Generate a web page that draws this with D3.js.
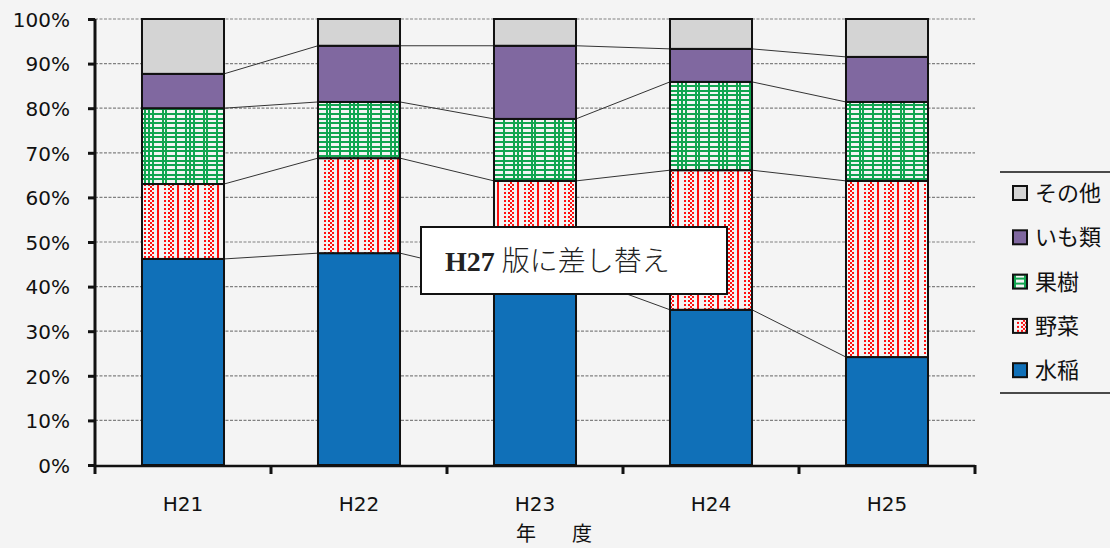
<!DOCTYPE html>
<html><head><meta charset="utf-8">
<script src="https://cdn.jsdelivr.net/npm/d3@7"></script>
<style>body{margin:0;background:#f4f4f4;}svg{display:block;}</style>
</head><body>
<svg id="c" width="1110" height="548"></svg>
<script>
const categories = ["H21","H22","H23","H24","H25"];
const seriesNames = ["水稲","野菜","果樹","いも類","その他"];
const suito   = [46.2, 47.5, 42.5, 34.8, 24.2];
const yasai   = [16.8, 21.3, 21.2, 31.3, 39.5];
const kaju    = [17.0, 12.6, 13.9, 19.8, 17.7];
const imo     = [7.7, 12.6, 16.4, 7.4, 10.1];
const sonota  = [12.3, 6.0, 6.0, 6.7, 8.5];
const yTicks = [0,10,20,30,40,50,60,70,80,90,100];
const noteText = "版に差し替え";

(function(){
const svg = d3.select("#c");
svg.append("rect").attr("width",1110).attr("height",548).attr("fill","#f4f4f4");
const defs = svg.append("defs");
const pg = defs.append("pattern").attr("id","pGreen").attr("patternUnits","userSpaceOnUse")
  .attr("width",41).attr("height",14).attr("x",142).attr("y",0);
pg.append("rect").attr("width",41).attr("height",14).attr("fill","#f4f4f4");
[2,6,10,20,23,33].forEach(v=>pg.append("rect").attr("x",v).attr("y",0).attr("width",2).attr("height",14).attr("fill","#11a550"));
[1,6,10].forEach(v=>pg.append("rect").attr("x",0).attr("y",v).attr("width",41).attr("height",2).attr("fill","#11a550"));
const pr = defs.append("pattern").attr("id","pRed").attr("patternUnits","userSpaceOnUse")
  .attr("width",20).attr("height",4).attr("x",142).attr("y",0);
pr.append("rect").attr("width",20).attr("height",4).attr("fill","#f4f4f4");
[[2,0],[6,0],[8,2],[10,0],[15,2],[15,0]].forEach(([a,b])=>pr.append("rect").attr("x",a).attr("y",b).attr("width",2).attr("height",2).attr("fill","#ff1010"));

const fills = ["#1070b8","url(#pRed)","url(#pGreen)","#8068a0","#d4d4d4"];

const pL=95, pR=975, pT=19, pB=465;
const x = d3.scaleBand().domain(categories).range([pL,pR]).paddingInner(0.534).paddingOuter(0.267);
const y = d3.scaleLinear().domain([0,100]).range([pB,pT]);

const rows = categories.map((c,i)=>({cat:c, "水稲":suito[i], "野菜":yasai[i], "果樹":kaju[i], "いも類":imo[i], "その他":sonota[i]}));
const stacked = d3.stack().keys(seriesNames)(rows);

svg.append("g").selectAll("line").data(yTicks.filter(t=>t>0)).join("line")
  .attr("x1",pL).attr("x2",pR).attr("y1",d=>y(d)).attr("y2",d=>y(d))
  .attr("stroke","#808080").attr("stroke-width",1.2).attr("stroke-dasharray","3,1.5");

stacked.slice(0,4).forEach(s=>{
  for(let i=0;i<s.length-1;i++){
    svg.append("line")
      .attr("x1",x(categories[i])+x.bandwidth()).attr("y1",y(s[i][1]))
      .attr("x2",x(categories[i+1])).attr("y2",y(s[i+1][1]))
      .attr("stroke","#333").attr("stroke-width",1);
  }
});

stacked.forEach((s,k)=>{
  svg.append("g").selectAll("rect").data(s).join("rect")
    .attr("x",(d,i)=>x(categories[i])).attr("width",x.bandwidth())
    .attr("y",d=>y(d[1])).attr("height",d=>y(d[0])-y(d[1]))
    .attr("fill",fills[k]).attr("stroke","#111").attr("stroke-width",2);
});

const yAxis = d3.axisLeft(y).tickValues(yTicks).tickFormat(d=>d+"%").tickSize(7);
const gy = svg.append("g").attr("transform",`translate(${pL},0)`).call(yAxis);
gy.select(".domain").attr("stroke","#111").attr("stroke-width",3).attr("d",`M0,${pT}V${pB}`);
gy.selectAll(".tick line").attr("stroke","#111").attr("stroke-width",3);
gy.selectAll("text").attr("font-family","DejaVu Sans").attr("font-size",20).attr("fill","#111").attr("x",-25).attr("dy","0.36em");

svg.append("line").attr("x1",pL).attr("x2",pR).attr("y1",pB+1).attr("y2",pB+1).attr("stroke","#111").attr("stroke-width",2.5);
const bounds = categories.map(c=>x(c)-x.step()*x.paddingInner()/2).concat([pR]);
svg.append("g").selectAll("line").data(bounds).join("line")
  .attr("x1",d=>d).attr("x2",d=>d).attr("y1",pB).attr("y2",pB+9)
  .attr("stroke","#111").attr("stroke-width",3);
svg.append("g").selectAll("text").data(categories).join("text")
  .attr("x",d=>x(d)+x.bandwidth()/2).attr("y",511).attr("text-anchor","middle")
  .attr("font-family","DejaVu Sans").attr("font-size",20).attr("fill","#111").text(d=>d);
svg.append("text").attr("x",526).attr("y",541).attr("text-anchor","middle")
  .attr("font-family","Noto Sans CJK JP").attr("font-size",20).attr("fill","#111").text("年");
svg.append("text").attr("x",582).attr("y",541).attr("text-anchor","middle")
  .attr("font-family","Noto Sans CJK JP").attr("font-size",20).attr("fill","#111").text("度");

svg.append("line").attr("x1",1000).attr("x2",1110).attr("y1",172).attr("y2",172).attr("stroke","#111").attr("stroke-width",1.5);
svg.append("line").attr("x1",1000).attr("x2",1110).attr("y1",393).attr("y2",393).attr("stroke","#111").attr("stroke-width",1.5);
const legendOrder = [4,3,2,1,0];
const lg = svg.append("g").selectAll("g").data(legendOrder).join("g")
  .attr("transform",(d,i)=>`translate(1013,${193+i*44.3})`);
lg.append("rect").attr("x",0).attr("y",-7).attr("width",14).attr("height",14)
  .attr("fill",d=>fills[d]).attr("stroke","#111").attr("stroke-width",2);
lg.append("text").attr("x",22).attr("y",8).attr("font-family","Noto Sans CJK JP").attr("font-size",22).attr("fill","#111")
  .text(d=>seriesNames[d]);

svg.append("rect").attr("x",421).attr("y",227).attr("width",306).attr("height",67)
  .attr("fill","#ffffff").attr("stroke","#111").attr("stroke-width",2);
const nt = svg.append("text").attr("x",445).attr("y",271).attr("font-size",28).attr("fill","#222");
nt.append("tspan").attr("font-family","Liberation Serif").attr("font-weight","bold").text("H27 ");
nt.append("tspan").attr("font-family","Noto Sans CJK JP").attr("font-weight","300").text(noteText);
})();
</script>
</body></html>
